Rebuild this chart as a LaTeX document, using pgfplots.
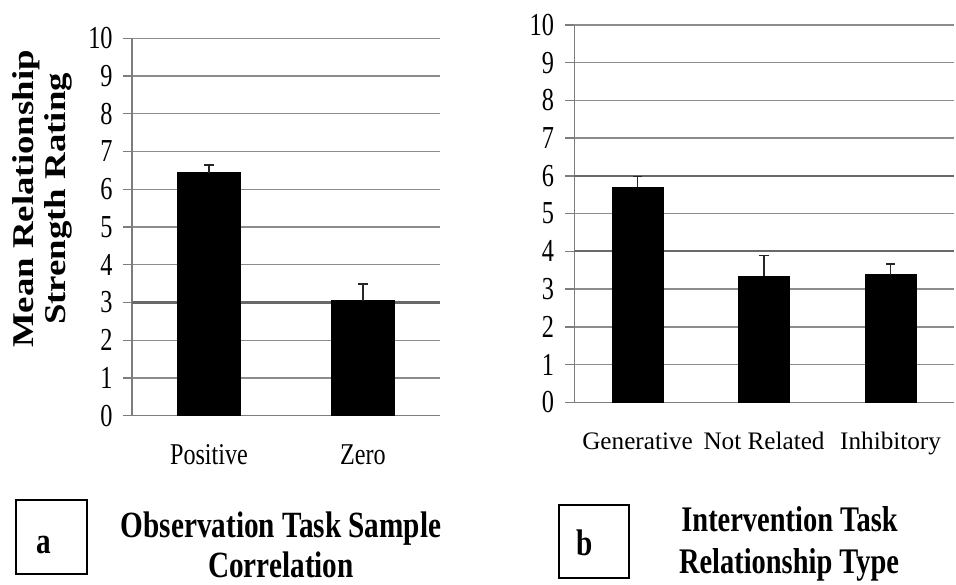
\documentclass[border=0pt]{standalone}
\usepackage{fontspec}
\setmainfont{Liberation Serif}
\newfontfamily\tickfont{Liberation Serif}[FakeStretch=0.76]
\newfontfamily\lblfont{Liberation Serif}[FakeStretch=0.8]
\newfontfamily\titlefont{Liberation Serif}[FakeStretch=0.79]
\usepackage{pgfplots}
\pgfplotsset{compat=1.18}
\definecolor{gridgray}{RGB}{140,140,140}
\definecolor{axgray}{RGB}{125,125,125}
\definecolor{darkgrid}{RGB}{105,105,105}

\pgfplotsset{
 mystyle/.style={
  scale only axis,
  ymin=0, ymax=10, ytick={0,1,...,10},
  axis x line*=bottom, axis y line*=left,
  axis line style={axgray, line width=0.7pt, -},
  ymajorgrids, major grid style={gridgray, line width=0.7pt},
  tick align=outside, major tick length=4.5pt,
  ytick style={axgray, line width=0.7pt},
  xtick style={draw=none},
  xtick=data,
  /pgf/number format/assume math mode=true,
  yticklabel={\tickfont\fontsize{16}{16}\selectfont\pgfmathprintnumber{\tick}},
  yticklabel style={inner sep=0pt, anchor=east},
  xticklabel style={inner sep=0pt, anchor=base},
  clip=false,
 },
 mybar/.style={ybar, fill=black, draw=black,
  error bars/.cd, y dir=plus, y explicit,
  error bar style={line width=0.8pt, black!85},
  error mark options={rotate=90, mark size=2.4pt, line width=0.8pt, black!85},
  /pgfplots/.cd},
}

\begin{document}
\begin{tikzpicture}
\path[use as bounding box] (0,0) rectangle (478pt,292pt);

% ---- panel a ----
\begin{axis}[mystyle,
  at={(66pt,84.15pt)}, anchor=south west,
  width=154pt, height=188.7pt,
  xmin=-0.5, xmax=1.5,
  xticklabels={Positive,Zero},
  xticklabel style={font=\lblfont\fontsize{15.1}{15}\selectfont, yshift=-20pt},
  yticklabel style={xshift=-5pt},
  extra y ticks={3}, extra y tick labels={},
  extra y tick style={major grid style={darkgrid, line width=1.1pt}},
]
\addplot[bar width=31.5pt, mybar] coordinates {(0,6.44) +- (0,0.20) (1,3.05) +- (0,0.44)};
\end{axis}

% ---- panel b ----
\begin{axis}[mystyle,
  at={(287.15pt,90.85pt)}, anchor=south west,
  width=189.75pt, height=188.65pt,
  xmin=-0.5, xmax=2.5,
  xticklabels={Generative,Not Related,Inhibitory},
  xticklabel style={font=\fontsize{12.6}{13}\selectfont, yshift=-19pt},
  yticklabel style={xshift=-5.5pt},
  extra y ticks={4,6}, extra y tick labels={},
  extra y tick style={major grid style={darkgrid, line width=1.1pt}},
]
\addplot[bar width=25.5pt, mybar] coordinates {(0,5.70) +- (0,0.28) (1,3.34) +- (0,0.55) (2,3.38) +- (0,0.29)};
\end{axis}

% ---- y label ----
\node[rotate=90, anchor=base, inner sep=0pt] at (16.5pt,192.5pt)
  {\scalebox{1}[0.82]{\fontsize{18.4}{20}\selectfont\bfseries Mean Relationship}};
\node[rotate=90, anchor=base, inner sep=0pt] at (32.5pt,192.5pt)
  {\scalebox{1}[0.82]{\fontsize{18.4}{20}\selectfont\bfseries Strength Rating}};

% ---- panel labels ----
\draw[black, line width=0.8pt] (8pt,5pt) rectangle (43.5pt,42pt);
\node[anchor=base, inner sep=0pt] at (22pt,15.5pt) {\titlefont\fontsize{18.5}{20}\selectfont\bfseries a};
\node[anchor=base, inner sep=0pt] at (140.5pt,23.5pt) {\titlefont\fontsize{18.5}{20}\selectfont\bfseries Observation Task Sample};
\node[anchor=base, inner sep=0pt] at (140.5pt,3.5pt) {\titlefont\fontsize{18.5}{20}\selectfont\bfseries Correlation};

\draw[black, line width=0.8pt] (279.5pt,3pt) rectangle (314.5pt,39.5pt);
\node[anchor=base, inner sep=0pt] at (292.5pt,14.5pt) {\titlefont\fontsize{18.5}{20}\selectfont\bfseries b};
\node[anchor=base, inner sep=0pt] at (394.75pt,26.5pt) {\titlefont\fontsize{18}{20}\selectfont\bfseries Intervention Task};
\node[anchor=base, inner sep=0pt] at (394.5pt,5.5pt) {\titlefont\fontsize{18}{20}\selectfont\bfseries Relationship Type};
\end{tikzpicture}
\end{document}
